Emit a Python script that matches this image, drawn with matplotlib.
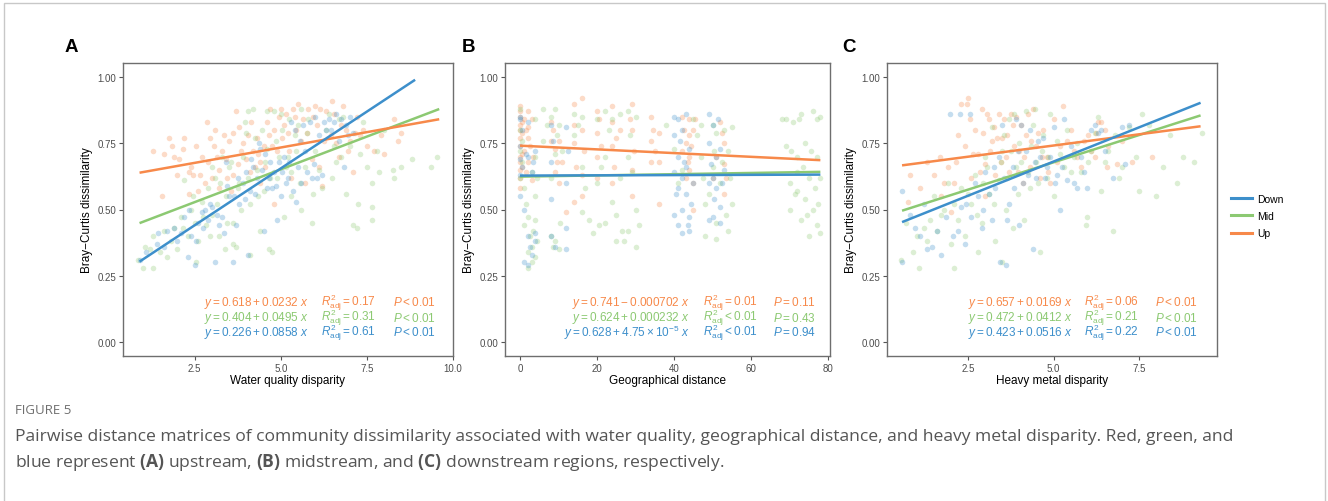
import numpy as np
import matplotlib
matplotlib.use("Agg")
import matplotlib.pyplot as plt
from matplotlib.lines import Line2D
from matplotlib.patches import Rectangle

plt.rcParams['font.family'] = ['Liberation Sans', 'DejaVu Sans']
plt.rcParams['mathtext.fontset'] = 'custom'
plt.rcParams['mathtext.rm'] = 'Liberation Sans'
plt.rcParams['mathtext.it'] = 'Liberation Sans:italic'
plt.rcParams['mathtext.bf'] = 'Open Sans:bold'

W, H = 1328, 502

groups = ["Down", "Mid", "Up"]
colors = {"Down": "#3d8fcb", "Mid": "#8cc972", "Up": "#f7894a"}

# ---- panel A : water quality disparity ----
a_up = [(1.3, .72), (1.75, .77), (1.85, .74), (1.9, .70), (2.05, .69), (2.2, .77), (2.15, .73), (2.55, .74),
        (2.85, .83), (2.95, .77), (3.1, .80), (3.7, .87), (1.55, .55), (2.35, .64), (2.45, .63), (2.65, .63),
        (2.35, .56), (2.7, .70), (2.9, .68), (3.0, .62), (3.2, .65), (3.3, .72), (3.5, .76), (3.4, .69),
        (3.6, .63), (3.8, .81), (3.9, .75), (4.0, .69), (4.1, .64), (4.2, .72), (4.3, .77), (4.4, .68),
        (4.5, .74), (4.6, .83), (4.7, .88), (4.8, .80), (4.9, .72), (5.0, .88), (5.1, .82), (5.2, .79),
        (5.4, .85), (5.5, .90), (5.6, .76), (5.8, .88), (6.0, .89), (6.1, .66), (6.3, .87), (6.5, .91),
        (6.6, .75), (6.7, .70), (6.8, .89), (7.0, .76), (7.2, .85), (7.3, .78), (7.5, .74), (7.7, .72),
        (7.9, .78), (8.3, .84), (8.4, .76), (8.5, .79), (6.2, .59), (5.3, .62), (4.8, .52), (3.2, .58),
        (2.6, .57), (5.9, .69), (7.1, .64), (4.4, .60), (6.9, .80), (3.6, .79), (3.05, .74), (4.25, .66),
        (2.4, .66), (2.8, .60), (3.15, .70), (3.35, .78), (3.45, .62), (3.75, .67), (3.85, .72), (4.05, .78),
        (4.15, .83), (4.35, .71), (4.55, .66), (4.65, .78), (4.75, .74), (4.95, .85), (5.05, .77), (5.15, .86),
        (5.25, .72), (5.35, .88), (5.45, .80), (5.65, .84), (5.75, .79), (5.95, .85), (6.05, .82), (6.15, .88),
        (6.25, .76), (6.45, .78), (6.55, .86), (6.75, .82), (6.95, .72), (7.15, .79), (7.4, .80), (8.0, .71),
        (1.6, .71), (2.0, .63), (3.55, .57), (5.7, .60)]
a_mid = [(0.86, .31), (1.0, .28), (1.28, .28), (1.05, .36), (1.3, .40), (1.5, .34), (1.6, .42), (1.8, .38),
         (1.9, .43), (2.0, .35), (2.1, .47), (2.3, .40), (2.4, .50), (2.5, .45), (2.6, .38), (2.7, .53),
         (2.84, .44), (2.9, .58), (3.0, .48), (3.1, .62), (3.2, .40), (3.37, .35), (3.4, .55), (3.5, .66),
         (3.6, .45), (3.7, .36), (3.8, .60), (3.9, .70), (4.04, .87), (4.1, .52), (4.2, .88), (4.3, .65),
         (4.4, .42), (4.5, .57), (4.6, .87), (4.67, .35), (4.75, .34), (4.8, .87), (4.9, .62), (5.0, .86),
         (5.1, .47), (5.2, .70), (5.3, .55), (5.4, .78), (5.5, .82), (5.6, .50), (5.7, .66), (5.8, .84),
         (5.9, .45), (6.0, .72), (6.2, .58), (6.3, .80), (6.5, .62), (6.6, .68), (6.8, .85), (6.9, .56),
         (7.0, .74), (7.1, .44), (7.22, .43), (7.25, .52), (7.4, .83), (7.5, .66), (7.65, .60), (7.65, .46),
         (7.65, .51), (7.85, .64), (8.0, .80), (8.25, .65), (8.5, .66), (8.81, .69), (9.35, .66), (9.53, .70),
         (3.3, .70), (2.2, .61), (4.0, .79), (5.6, .88), (6.7, .84), (3.0, .66), (4.6, .73), (5.3, .64),
         (1.2, .35), (1.7, .32), (2.15, .43), (2.45, .55), (2.75, .47), (2.95, .40), (3.15, .52), (3.25, .60),
         (3.45, .45), (3.55, .68), (3.75, .58), (3.85, .50), (3.95, .83), (4.05, .62), (4.25, .77), (4.35, .55),
         (4.45, .80), (4.55, .68), (4.7, .62), (4.85, .76), (4.95, .70), (5.05, .80), (5.15, .66), (5.25, .84),
         (5.45, .72), (5.55, .60), (5.75, .79), (5.95, .56), (6.1, .65), (6.4, .86), (6.55, .74), (6.75, .70),
         (7.3, .71), (7.8, .72), (8.3, .62), (2.55, .30), (3.6, .37), (4.1, .33)]
a_down = [(0.9, .31), (1.4, .37), (1.44, .41), (1.7, .42), (1.9, .43), (2.0, .38), (2.3, .32), (2.5, .29),
          (2.2, .47), (2.4, .40), (2.6, .45), (2.7, .49), (2.8, .50), (2.9, .46), (3.0, .51), (3.1, .30),
          (3.2, .44), (3.3, .47), (3.5, .55), (3.6, .30), (3.7, .44), (3.8, .52), (3.9, .60), (4.04, .33),
          (4.1, .57), (4.2, .66), (4.3, .62), (4.38, .75), (4.5, .42), (4.6, .58), (4.7, .68), (4.8, .64),
          (4.86, .59), (4.9, .46), (5.0, .55), (5.1, .70), (5.2, .62), (5.3, .83), (5.45, .53), (5.5, .66),
          (5.6, .60), (5.7, .72), (5.85, .83), (5.9, .62), (5.97, .67), (6.1, .78), (6.2, .63), (6.3, .80),
          (6.4, .84), (6.6, .86), (6.7, .76), (6.85, .66), (6.9, .82), (7.0, .85), (7.1, .79), (4.4, .73),
          (3.4, .68), (5.4, .80), (6.0, .85), (4.0, .64),
          (1.1, .34), (1.6, .36), (2.1, .41), (2.35, .50), (2.55, .38), (2.75, .43), (2.95, .52), (3.15, .48),
          (3.35, .41), (3.45, .59), (3.65, .55), (3.75, .62), (3.95, .54), (4.15, .69), (4.25, .56), (4.45, .65),
          (4.55, .71), (4.65, .62), (4.75, .58), (4.95, .68), (5.05, .64), (5.15, .60), (5.25, .68), (5.35, .57),
          (5.55, .76), (5.65, .82), (5.75, .64), (6.05, .62), (6.25, .83), (6.45, .80), (6.55, .83), (6.75, .84),
          (6.95, .78)]

# ---- panel B : geographical distance ----
b_up = [(0, .89), (0, .87), (0, .85), (0, .82), (0, .80), (0, .77), (0, .74), (0, .70), (0, .68), (0, .65),
        (0, .62), (0, .58), (1, .84), (1, .72), (2, .87), (2, .81), (2, .77), (2, .68), (3, .84), (3, .61),
        (8, .83), (8, .76), (9, .73), (9, .64), (10, .60), (10, .76), (11, .68), (12, .49), (14, .90),
        (14, .82), (14, .75), (14, .53), (16, .92), (16, .80), (16, .63), (16, .55), (20, .87), (20, .79),
        (20, .70), (20, .62), (24, .89), (24, .83), (24, .74), (24, .60), (26, .80), (29, .90), (29, .80),
        (29, .65), (29, .55), (34, .85), (34, .76), (34, .68), (36, .79), (36, .68), (36, .52), (42, .85),
        (42, .72), (43, .62), (44, .84), (44, .78), (44, .70), (44, .65), (45, .80), (45, .60), (45, .50),
        (52, .83), (53, .75), (53, .67), (53, .56), (50, .62),
        (0.5, .83), (0.5, .79), (0.5, .71), (0.5, .66), (1.5, .80), (1.5, .64), (2.5, .74), (3.5, .70),
        (8.5, .80), (9.5, .68), (14.5, .66), (16.5, .72), (20.5, .84), (21, .74), (24.5, .66), (25, .77),
        (28.5, .84), (29.5, .72), (34.5, .80), (35, .72), (42.5, .80), (43, .75), (43.5, .68), (44.5, .74),
        (45.5, .84), (52.5, .79), (53.5, .62), (51, .70)]
b_mid = [(0, .88), (0, .80), (0, .72), (0, .62), (1, .58), (1, .44), (2, .47), (2, .34), (2, .28), (3, .64),
         (3, .36), (3, .30), (4, .84), (4, .70), (4, .55), (4, .46), (4, .32), (6, .88), (6, .76), (8, .85),
         (8, .62), (8, .40), (9, .88), (9, .71), (9, .38), (10, .82), (10, .35), (11, .72), (14, .86),
         (14, .78), (16, .85), (16, .66), (16, .49), (18, .46), (19, .41), (20, .84), (20, .60), (22, .87),
         (22, .70), (22, .45), (24, .84), (24, .53), (25, .38), (26, .86), (26, .62), (27, .38), (28, .87),
         (28, .70), (28, .42), (30, .85), (30, .50), (30, .36), (38, .82), (40, .73), (41, .60), (45, .84),
         (47, .82), (47, .70), (48, .52), (48, .40), (50, .82), (50, .66), (51, .79), (51, .45), (51, .39),
         (52, .60), (53, .80), (54, .72), (54, .42), (55, .81), (55, .52), (68, .84), (69, .74), (70, .60),
         (70, .50), (71, .83), (72, .70), (72, .57), (73, .86), (73, .46), (74, .75), (74, .54), (75, .62),
         (76, .87), (76, .50), (77, .84), (77, .70), (77, .44), (78, .85), (78, .62), (78, .41), (72, .64),
         (75, .40),
         (0.5, .68), (0.5, .76), (1.5, .52), (2.5, .40), (3.5, .42), (4.5, .62), (4.5, .38), (7, .82),
         (8.5, .36), (9.5, .78), (10.5, .45), (15, .82), (17, .58), (20.5, .44), (21, .66), (23, .80),
         (25, .48), (26.5, .42), (28.5, .78), (29, .64), (31, .44), (42, .65), (46, .78), (47.5, .62),
         (49, .56), (50.5, .72), (52.5, .68), (53.5, .48), (54.5, .62), (70.5, .72), (71.5, .56), (73.5, .66),
         (74.5, .48), (75.5, .72), (76.5, .58), (77.5, .52), (69, .84), (72.5, .84)]
b_down = [(0, .85), (0, .84), (0, .74), (0, .69), (0, .63), (0, .55), (1, .50), (1, .30), (2, .83), (2, .70),
          (2, .40), (2, .29), (3, .64), (3, .33), (4, .72), (4, .38), (4, .41), (8, .82), (8, .68), (8, .54),
          (8, .40), (9, .36), (12, .81), (12, .60), (12, .43), (12, .35), (40, .85), (40, .78), (40, .64),
          (40, .48), (41, .84), (41, .70), (41, .58), (41, .44), (42, .80), (42, .62), (42, .50), (42, .41),
          (43, .86), (43, .66), (43, .56), (44, .73), (44, .47), (44, .42), (45, .60), (49, .86), (49, .75),
          (49, .60), (49, .46), (50, .82), (50, .62), (50, .47), (51, .70), (51, .58), (52, .73), (52, .51),
          (52, .45), (53, .65),
          (0.5, .80), (0.5, .66), (1.5, .71), (2.5, .36), (3.5, .68), (8.5, .76), (12.5, .72), (40.5, .56),
          (41.5, .76), (42.5, .68), (43.5, .44), (44.5, .52), (49.5, .67), (50.5, .54), (51.5, .84), (52.5, .60)]

# ---- panel C : heavy metal disparity ----
c_up = [(0.73, .53), (0.8, .63), (1.1, .58), (1.5, .63), (1.68, .70), (1.7, .55), (1.9, .66), (2.0, .49),
        (2.1, .60), (2.3, .90), (2.46, .90), (2.5, .92), (2.4, .74), (2.6, .62), (2.7, .80), (2.8, .71),
        (2.9, .88), (3.0, .67), (3.1, .84), (3.2, .76), (3.3, .63), (3.4, .86), (3.5, .77), (3.6, .70),
        (3.7, .64), (3.8, .82), (3.9, .85), (4.0, .72), (4.1, .60), (4.2, .78), (4.3, .66), (4.4, .88),
        (4.5, .74), (4.6, .62), (4.7, .80), (4.8, .70), (5.0, .84), (5.1, .68), (5.29, .89), (5.4, .76),
        (5.6, .72), (5.8, .66), (6.0, .78), (6.2, .70), (6.3, .83), (6.4, .83), (6.5, .80), (6.6, .74),
        (6.85, .67), (7.0, .76), (7.87, .70), (3.0, .55), (4.9, .60), (2.2, .78),
        (1.3, .68), (1.8, .60), (2.15, .68), (2.55, .84), (2.65, .71), (2.85, .64), (2.95, .79), (3.05, .86),
        (3.15, .72), (3.25, .81), (3.35, .77), (3.45, .68), (3.55, .84), (3.65, .78), (3.75, .86), (3.85, .74),
        (3.95, .64), (4.05, .82), (4.15, .70), (4.25, .86), (4.35, .76), (4.55, .79), (4.65, .70), (4.85, .64),
        (5.2, .74), (5.5, .80), (5.7, .70), (5.9, .76), (6.1, .72), (6.25, .79), (6.55, .66), (7.3, .68)]
c_mid = [(0.54, .31), (0.7, .45), (1.06, .28), (1.0, .40), (1.3, .38), (1.5, .55), (1.6, .42), (1.8, .50),
         (2.09, .28), (2.0, .37), (2.2, .46), (2.3, .58), (2.4, .40), (2.6, .52), (2.7, .63), (2.8, .34),
         (2.9, .45), (3.0, .70), (3.1, .56), (3.2, .81), (3.3, .38), (3.4, .61), (3.5, .72), (3.6, .50),
         (3.7, .84), (3.8, .43), (3.9, .66), (4.0, .75), (4.15, .46), (4.2, .87), (4.3, .58), (4.4, .82),
         (4.5, .68), (4.6, .34), (4.7, .78), (4.8, .62), (4.9, .86), (5.0, .55), (5.2, .71), (5.4, .80),
         (5.5, .64), (5.7, .75), (5.95, .44), (5.98, .47), (6.0, .68), (6.2, .79), (6.4, .57), (6.6, .72),
         (6.75, .42), (6.9, .62), (7.2, .81), (7.5, .57), (7.6, .86), (7.8, .82), (8.0, .55), (8.2, .66),
         (8.6, .60), (9.1, .68), (9.33, .79), (6.3, .85), (1.9, .60), (3.5, .30),
         (0.9, .34), (1.2, .43), (1.4, .46), (1.7, .48), (2.1, .52), (2.5, .56), (2.75, .48), (2.95, .60),
         (3.05, .66), (3.25, .52), (3.45, .68), (3.55, .78), (3.65, .62), (3.75, .72), (3.85, .86), (3.95, .56),
         (4.05, .68), (4.25, .64), (4.35, .74), (4.45, .88), (4.55, .60), (4.65, .72), (4.85, .70), (5.1, .76),
         (5.3, .66), (5.6, .70), (5.8, .64), (6.1, .72), (6.5, .68), (6.8, .78), (7.0, .66), (7.4, .70),
         (8.4, .78), (8.8, .70)]
c_down = [(0.58, .57), (0.58, .30), (0.95, .43), (1.2, .52), (1.45, .36), (1.7, .33), (1.97, .86), (2.2, .42),
          (2.26, .86), (2.4, .37), (2.55, .86), (2.3, .51), (2.6, .47), (2.8, .55), (2.9, .43), (3.0, .64),
          (3.2, .46), (3.3, .58), (3.44, .30), (3.5, .82), (3.6, .29), (3.7, .52), (3.8, .66), (3.9, .84),
          (4.0, .44), (4.1, .60), (4.2, .72), (4.3, .80), (4.4, .35), (4.5, .62), (4.6, .70), (4.8, .66),
          (5.0, .81), (5.1, .63), (5.2, .50), (5.3, .84), (5.4, .61), (5.6, .60), (5.8, .70), (5.98, .58),
          (6.1, .80), (6.3, .79), (6.5, .72), (6.75, .62), (7.0, .81), (7.1, .67), (4.7, .77), (3.4, .70),
          (0.8, .48), (1.1, .40), (1.3, .35), (1.6, .42), (1.85, .47), (2.05, .40), (2.45, .52), (2.7, .60),
          (2.95, .50), (3.1, .56), (3.25, .66), (3.55, .62), (3.65, .46), (3.85, .58), (3.95, .72), (4.05, .82),
          (4.25, .63), (4.45, .68), (4.55, .76), (4.75, .62), (4.9, .70), (5.05, .60), (5.25, .66), (5.5, .74),
          (5.7, .58), (5.9, .64), (6.2, .82), (6.4, .80), (7.2, .82)]

# fitted coefficients (intercept, slope) and x range of each fit line
a_fit = {"Up": (0.618, 0.0232, 0.9, 9.6), "Mid": (0.404, 0.0495, 0.9, 9.6), "Down": (0.226, 0.0858, 0.9, 8.9)}
b_fit = {"Up": (0.741, -0.000702, 0, 78), "Mid": (0.624, 0.000232, 0, 78), "Down": (0.628, 4.75e-5, 0, 78)}
c_fit = {"Up": (0.657, 0.0169, 0.57, 9.3), "Mid": (0.472, 0.0412, 0.57, 9.3), "Down": (0.423, 0.0516, 0.57, 9.3)}

a_eq = {"Up": (r"$y = 0.618 + 0.0232\ x$", r"$R^2_{\mathrm{adj}} = 0.17$", r"$P < 0.01$"),
        "Mid": (r"$y = 0.404 + 0.0495\ x$", r"$R^2_{\mathrm{adj}} = 0.31$", r"$P < 0.01$"),
        "Down": (r"$y = 0.226 + 0.0858\ x$", r"$R^2_{\mathrm{adj}} = 0.61$", r"$P < 0.01$")}
b_eq = {"Up": (r"$y = 0.741 - 0.000702\ x$", r"$R^2_{\mathrm{adj}} = 0.01$", r"$P = 0.11$"),
        "Mid": (r"$y = 0.624 + 0.000232\ x$", r"$R^2_{\mathrm{adj}} < 0.01$", r"$P = 0.43$"),
        "Down": (r"$y = 0.628 + 4.75 \times 10^{-5}\ x$", r"$R^2_{\mathrm{adj}} < 0.01$", r"$P = 0.94$")}
c_eq = {"Up": (r"$y = 0.657 + 0.0169\ x$", r"$R^2_{\mathrm{adj}} = 0.06$", r"$P < 0.01$"),
        "Mid": (r"$y = 0.472 + 0.0412\ x$", r"$R^2_{\mathrm{adj}} = 0.21$", r"$P < 0.01$"),
        "Down": (r"$y = 0.423 + 0.0516\ x$", r"$R^2_{\mathrm{adj}} = 0.22$", r"$P < 0.01$")}

panels = [
    dict(letter="A", xlabel="Water quality disparity", pts={"Up": a_up, "Mid": a_mid, "Down": a_down},
         fit=a_fit, eq=a_eq, xlim=(0.42, 10.0), xticks=[2.5, 5.0, 7.5, 10.0], fmt="{:.1f}",
         box=(123, 453), letter_x=65, cols=(0.564, 0.600, 0.818)),
    dict(letter="B", xlabel="Geographical distance", pts={"Up": b_up, "Mid": b_mid, "Down": b_down},
         fit=b_fit, eq=b_eq, xlim=(-3.9, 80.5), xticks=[0, 20, 40, 60, 80], fmt="{:.0f}",
         box=(505, 830), letter_x=462, cols=(0.569, 0.609, 0.825)),
    dict(letter="C", xlabel="Heavy metal disparity", pts={"Up": c_up, "Mid": c_mid, "Down": c_down},
         fit=c_fit, eq=c_eq, xlim=(0.13, 9.78), xticks=[2.5, 5.0, 7.5], fmt="{:.1f}",
         box=(887, 1217), letter_x=842, cols=(0.564, 0.597, 0.812)),
]

fig = plt.figure(figsize=(W / 100, H / 100), dpi=100)

# outer frame
fig.patches.append(Rectangle((4 / W, -0.05), 1321 / W, 1.05 - 4 / H, transform=fig.transFigure,
                             fill=False, edgecolor="#c8c8c8", linewidth=1.0))

ax_top, ax_bot = 64, 357
for p in panels:
    x0, x1 = p["box"]
    ax = fig.add_axes([x0 / W, 1 - ax_bot / H, (x1 - x0) / W, (ax_bot - ax_top) / H])
    for g in ["Up", "Mid", "Down"]:
        arr = np.array(p["pts"][g])
        ax.scatter(arr[:, 0], arr[:, 1], s=16, color=colors[g], alpha=0.3, linewidths=0, zorder=2)
    for g in ["Mid", "Up", "Down"]:
        b0, b1, lo, hi = p["fit"][g]
        xx = np.array([lo, hi])
        ax.plot(xx, b0 + b1 * xx, color=colors[g], lw=1.8, zorder=3, solid_capstyle="butt")
    ax.set_xlim(*p["xlim"])
    ax.set_ylim(-0.053, 1.053)
    ax.set_yticks([0, 0.25, 0.5, 0.75, 1.0])
    ax.set_yticklabels(["0.00", "0.25", "0.50", "0.75", "1.00"])
    ax.set_xticks(p["xticks"])
    ax.set_xticklabels([p["fmt"].format(v) for v in p["xticks"]])
    ax.tick_params(length=3, width=0.8, color="#555555", labelsize=7, labelcolor="#4d4d4d", pad=2)
    for sp in ax.spines.values():
        sp.set_color("#6e6e6e")
        sp.set_linewidth(1.0)
    ax.set_ylabel("Bray\u2212Curtis dissimilarity", fontsize=8.5, labelpad=3)
    ax.set_xlabel(p["xlabel"], fontsize=8.5, labelpad=1)
    fig.text(p["letter_x"] / W, 1 - 48 / H, p["letter"], fontsize=13.5, fontweight="bold",
             va="center", ha="left")

    # equation / R2 / P columns, x in axes fraction, y in data units
    tr = ax.get_yaxis_transform()
    c_eq_x, c_r_x, c_p_x = p["cols"]
    for g, yy in zip(["Up", "Mid", "Down"], [0.151, 0.094, 0.038]):
        eq, r2, pv = p["eq"][g]
        ax.text(c_eq_x, yy, eq, ha="right", va="center", color=colors[g], fontsize=8.5, transform=tr, zorder=4)
        ax.text(c_r_x, yy, r2, ha="left", va="center", color=colors[g], fontsize=8.5, transform=tr, zorder=4)
        ax.text(c_p_x, yy, pv, ha="left", va="center", color=colors[g], fontsize=8.5, transform=tr, zorder=4)

handles = [Line2D([], [], color=colors[g], lw=2.2) for g in groups]
fig.legend(handles, groups, loc="center left", bbox_to_anchor=(1222 / W, 1 - 217 / H), frameon=False,
           fontsize=7.5, handlelength=2.0, handletextpad=0.5, labelspacing=0.7)

# caption
fig.text(15 / W, 1 - 410 / H, "FIGURE 5", fontsize=9.5, color="#6f6f6f", family="Open Sans", va="center")
fig.text(15 / W, 1 - 437 / H,
         "Pairwise distance matrices of community dissimilarity associated with water quality, geographical "
         "distance, and heavy metal disparity. Red, green, and",
         fontsize=12.6, color="#555555", family="Open Sans", va="center")
fig.text(15 / W, 1 - 463 / H,
         r"blue represent $\mathbf{(A)}$ upstream, $\mathbf{(B)}$ midstream, and $\mathbf{(C)}$ downstream "
         r"regions, respectively.",
         fontsize=12.6, color="#555555", family="Open Sans", va="center")

fig.savefig("out.png", dpi=100)
